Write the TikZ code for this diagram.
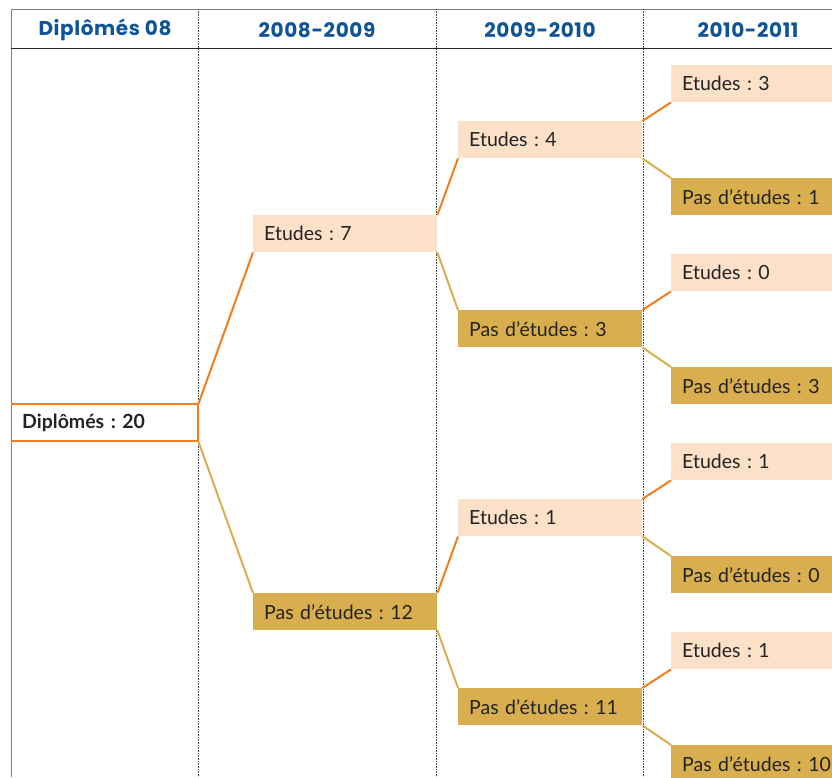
\documentclass[tikz,border=0pt]{standalone}
\usepackage{fontspec}
\setmainfont{Lato}
\newfontfamily\headfont[LetterSpace=3]{Poppins}
\usetikzlibrary{positioning}
\definecolor{peach}{RGB}{253,224,200}
\definecolor{gold}{RGB}{217,174,79}
\definecolor{orangeline}{RGB}{240,125,30}
\definecolor{headblue}{RGB}{14,84,150}
\definecolor{textgray}{RGB}{35,35,35}
\frenchspacing
\tikzset{
    x=1pt, y=-1pt, % one unit is one pixel of the reference
    box/.style={anchor=north west, minimum height=37pt, inner xsep=11pt, inner ysep=0pt,
        text width=162pt, align=left, font=\fontsize{19.5}{21}\selectfont, text=textgray}, % every result box
    etudes/.style={box, fill=peach}, % still studying
    pasetudes/.style={box, fill=gold}, % not studying
    wide/.style={text width=180pt}, % last column runs off the page
    head/.style={font=\headfont\bfseries\fontsize{20}{22}\selectfont, text=headblue}, % column titles
    yes/.style={draw=orangeline, line width=2pt}, % edge to 'Etudes'
    no/.style={draw=gold, line width=2pt}, % edge to 'Pas d'etudes'
    sep/.style={draw=black!70, densely dotted, line width=0.6pt}, % column separators
}

\begin{document}
\begin{tikzpicture}
    \useasboundingbox (0,0) rectangle (832,777);

    % frame and header
    \draw[black!50, line width=0.8pt] (11,777) -- (11,9) -- (832,9);
    \draw[black!85, line width=1pt] (11,48) -- (832,48);
    \foreach \x in {198,436,643}
        \draw[sep] (\x,9) -- (\x,777);
    \node[head] (h0) at (105,30) {Diplômés 08};
    \node[head] (h1) at (317,30) {2008-2009};
    \node[head] (h2) at (540,30) {2009-2010};
    \node[head] (h3) at (748,30) {2010-2011};

    % root
    \node[box, text width=165pt, font=\bfseries\fontsize{19.5}{21}\selectfont] (d20) at (11,404) {Diplômés : 20};
    \draw[orangeline, line width=2pt] (d20.north west) -- (d20.north east) -- (d20.south east) -- (d20.south west);

    % 2008-2009
    \node[etudes] (e7) at (253,215) {Etudes : 7};
    \node[pasetudes] (p12) at (253,593) {Pas d'études : 12};

    % 2009-2010
    \node[etudes] (e4) at (458,121) {Etudes : 4};
    \node[pasetudes] (p3) at (458,310) {Pas d'études : 3};
    \node[etudes] (e1) at (458,499) {Etudes : 1};
    \node[pasetudes] (p11) at (458,688) {Pas d'études : 11};

    % 2010-2011
    \node[etudes, wide] (e4e) at (671,65) {Etudes : 3};
    \node[pasetudes, wide] (e4p) at (671,178) {Pas d'études : 1};
    \node[etudes, wide] (p3e) at (671,254) {Etudes : 0};
    \node[pasetudes, wide] (p3p) at (671,367) {Pas d'études : 3};
    \node[etudes, wide] (e1e) at (671,443) {Etudes : 1};
    \node[pasetudes, wide] (e1p) at (671,556) {Pas d'études : 0};
    \node[etudes, wide] (p11e) at (671,632) {Etudes : 1};
    \node[pasetudes, wide] (p11p) at (671,745) {Pas d'études : 10};

    % edges
    \draw[yes] (d20.north east) -- (e7.south west);
    \draw[no] (d20.south east) -- (p12.north west);
    \draw[yes] (e7.north east) -- (e4.south west);
    \draw[no] (e7.south east) -- (p3.north west);
    \draw[yes] (p12.north east) -- (e1.south west);
    \draw[no] (p12.south east) -- (p11.north west);
    \draw[yes] (e4.north east) -- (e4e.south west);
    \draw[no] (e4.south east) -- (e4p.north west);
    \draw[yes] (p3.north east) -- (p3e.south west);
    \draw[no] (p3.south east) -- (p3p.north west);
    \draw[yes] (e1.north east) -- (e1e.south west);
    \draw[no] (e1.south east) -- (e1p.north west);
    \draw[yes] (p11.north east) -- (p11e.south west);
    \draw[no] (p11.south east) -- (p11p.north west);
\end{tikzpicture}
\end{document}
